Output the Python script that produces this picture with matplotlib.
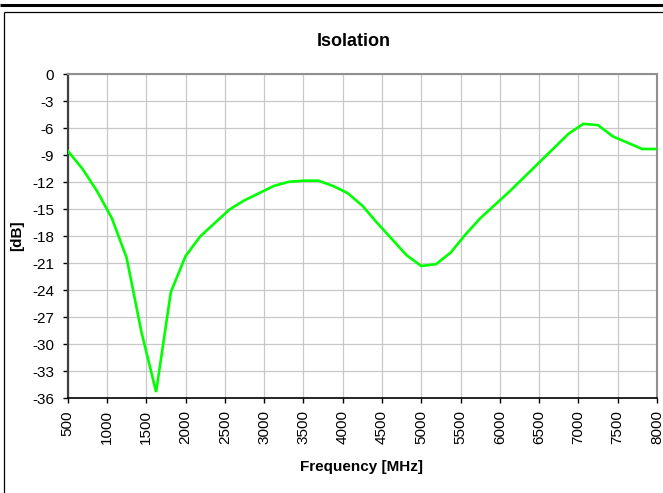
import matplotlib
matplotlib.use("Agg")
import matplotlib.pyplot as plt
from matplotlib.lines import Line2D
import numpy as np

plt.rcParams['font.family'] = ['Liberation Sans', 'DejaVu Sans']

freq = [500, 687.5, 875, 1062.5, 1250, 1437.5, 1625, 1812.5, 2000, 2187.5,
        2375, 2562.5, 2750, 2937.5, 3125, 3312.5, 3500, 3687.5, 3875, 4062.5,
        4250, 4437.5, 4625, 4812.5, 5000, 5187.5, 5375, 5562.5, 5750, 5937.5,
        6125, 6312.5, 6500, 6687.5, 6875, 7062.5, 7250, 7437.5, 7625, 7812.5, 8000]
isolation = [-8.5, -10.5, -13.0, -16.0, -20.4, -28.6, -35.3, -24.2, -20.2, -18.0,
             -16.5, -15.0, -14.0, -13.2, -12.4, -11.95, -11.82, -11.82, -12.4, -13.2,
             -14.6, -16.5, -18.3, -20.1, -21.3, -21.1, -19.8, -17.8, -16.0, -14.5,
             -13.0, -11.4, -9.8, -8.2, -6.6, -5.5, -5.65, -6.9, -7.6, -8.3, -8.3]
x_ticks = list(range(500, 8001, 500))
y_ticks = list(range(0, -37, -3))

W, H = 663, 493
fig = plt.figure(figsize=(W / 100, H / 100), dpi=100)
ax = fig.add_axes([67.7 / W, 1 - 398.3 / H, (657 - 67.7) / W, (398.3 - 74.3) / H])

ax.plot(freq, isolation, color='#00FF00', lw=1.9, solid_joinstyle='miter', zorder=3)

ax.set_xlim(500, 8000)
ax.set_ylim(-36, 0)
ax.set_xticks(x_ticks)
ax.set_yticks(y_ticks)
ax.set_xticklabels([str(v) for v in x_ticks], rotation=90, fontsize=11)
ax.set_yticklabels([str(v) for v in y_ticks], fontsize=11)
ax.grid(True, color='#c8c8c8', lw=0.9)
ax.set_axisbelow(True)
ax.tick_params(axis='both', direction='out', length=3.6, width=1, colors='black')
ax.tick_params(axis='y', pad=6)
ax.tick_params(axis='x', pad=5)

ax.spines['top'].set_color('#909090')
ax.spines['right'].set_color('#909090')
ax.spines['top'].set_linewidth(1.5)
ax.spines['right'].set_linewidth(1.5)
ax.spines['left'].set_color('#404040')
ax.spines['left'].set_linewidth(1.6)
ax.spines['bottom'].set_color('black')
ax.spines['bottom'].set_linewidth(1.2)

fig.text(354 / W, 1 - 41 / H, 'Isolation', ha='center', va='center', fontsize=13, fontweight='bold')
fig.text(362 / W, 1 - 467 / H, 'Frequency [MHz]', ha='center', va='center', fontsize=11, fontweight='bold')
fig.text(17 / W, 1 - 236 / H, '[dB]', ha='center', va='center', fontsize=11, fontweight='bold', rotation=90)

# outer frame decorations
def px_line(x0, y0, x1, y1, lw):
    fig.add_artist(Line2D([x0 / W, x1 / W], [1 - y0 / H, 1 - y1 / H], transform=fig.transFigure,
                          color='black', lw=lw, solid_capstyle='butt'))

px_line(0, 5, W, 5, 2.2)
px_line(3.5, 12, W, 12, 0.9)
px_line(3.5, 12, 3.5, H, 0.9)

fig.savefig('out.png', dpi=100)
